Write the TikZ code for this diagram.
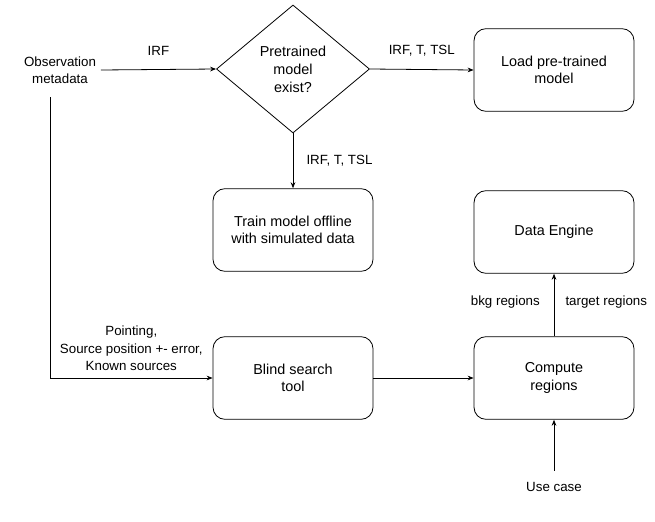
\documentclass[tikz,border=0pt]{standalone}
\usepackage{fontspec}
\setmainfont{Liberation Sans}
\usetikzlibrary{shapes.geometric}
\usetikzlibrary{arrows.meta}
\usetikzlibrary{positioning}

\begin{document}
\begin{tikzpicture}[x=0.75pt, y=-0.75pt, line width=0.6pt,
    font=\fontsize{10}{13}\selectfont,
    proc/.style={draw=black, rounded corners=9pt, minimum width=120pt, minimum height=62pt, align=center, font=\fontsize{10.8}{13.2}\selectfont},
    decision/.style={draw=black, diamond, inner sep=0pt, minimum width=114.75pt, minimum height=96pt, align=center, font=\fontsize{10.8}{13.5}\selectfont},
    flow/.style={-{Stealth[length=4.5pt, width=3.5pt]}, draw=black},
    lbl/.style={align=center}]
\useasboundingbox (0,0) rectangle (655,521);
\node[lbl] (obs) at (60,70) {Observation\\metadata};
\node[decision] (exist) at (293,69) {Pretrained\\model\\exist?};
\node[proc] (load) at (554,70) {Load pre-trained\\model};
\node[proc] (train) at (293,230) {Train model offline\\with simulated data};
\node[proc] (engine) at (554,232) {Data Engine};
\node[proc] (blind) at (293,378) {Blind search\\tool};
\node[proc] (regions) at (554,378) {Compute\\regions};
\node (usecase) at (554,487) {Use case};
\coordinate (tap) at (50,97);
\draw[flow] (obs.east) -- (exist.west) node[midway, above=6.5pt] {IRF};
\draw[flow] (exist.east) -- (load.west) node[midway, above=6.5pt] {IRF, T, TSL};
\draw[flow] (exist.south) -- (train.north) node[midway, right=6.5pt] {IRF, T, TSL};
\draw[flow] (tap) |- (blind.west) node[pos=0.75, above=2pt, lbl] {Pointing,\\Source position +- error,\\Known sources};
\draw[flow] (blind.east) -- (regions.west);
\draw[flow] (regions.north) -- (engine.south)
    node[midway, left=7pt, yshift=2pt] {bkg regions}
    node[midway, right=5pt, yshift=2pt] {target regions};
\draw[flow, shorten <=5pt] (usecase.north) -- (regions.south);
\end{tikzpicture}
\end{document}
